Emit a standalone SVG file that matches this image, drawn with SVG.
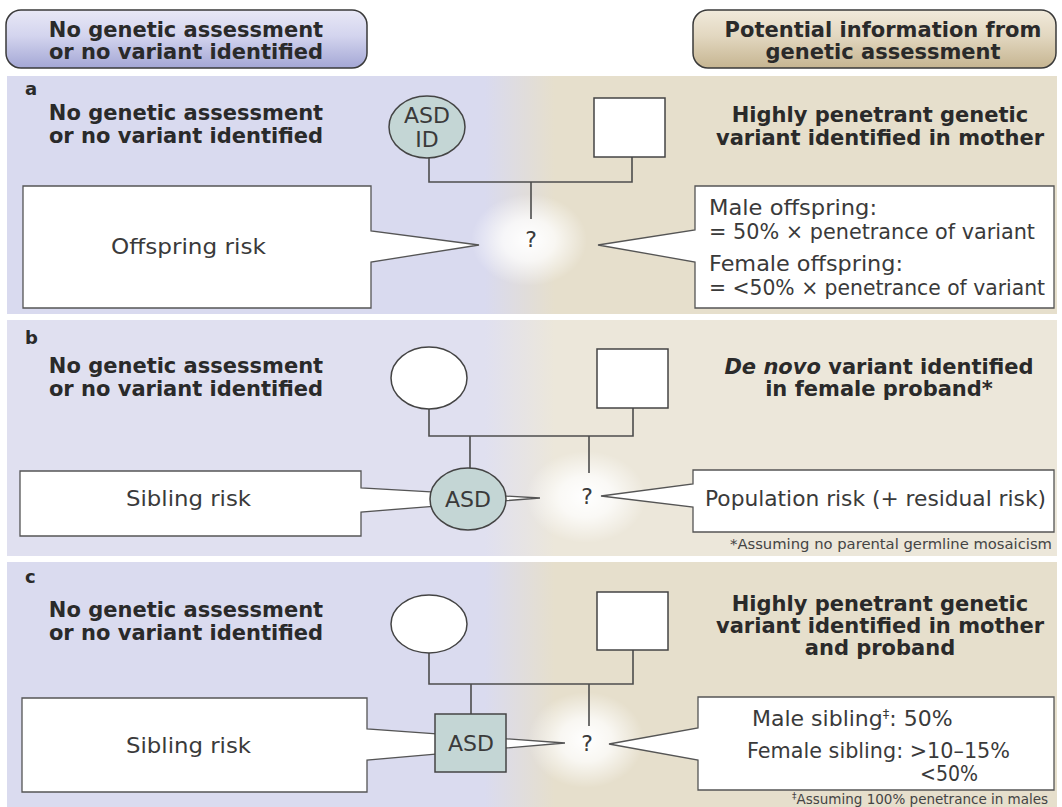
<svg xmlns="http://www.w3.org/2000/svg" width="1062" height="807" viewBox="0 0 1062 807">
<style>
.hd{font-family:"DejaVu Sans",sans-serif;font-weight:bold;font-size:21px;fill:#2a2a2a;text-anchor:middle}
.lb{font-family:"DejaVu Sans",sans-serif;font-weight:bold;font-size:18px;fill:#2a2a2a}
.tx{font-family:"DejaVu Sans",sans-serif;font-size:22px;fill:#3a3a3a}
.ts{font-family:"DejaVu Sans",sans-serif;font-size:20.5px;fill:#3a3a3a}
.nd{font-family:"DejaVu Sans",sans-serif;font-size:22px;fill:#3a3a3a;text-anchor:middle}
.fn{font-family:"DejaVu Sans",sans-serif;font-size:13.5px;fill:#444}
.ln{stroke:#4d4d4d;stroke-width:1.6;fill:none}
.co{fill:#fff;stroke:#555;stroke-width:1.3}
.pa{fill:#fff;stroke:#444;stroke-width:1.5}
.af{fill:#c4d6d5;stroke:#444;stroke-width:1.5}
.glow{fill:url(#glow)}
</style>
<defs>
<linearGradient id="gA" gradientUnits="userSpaceOnUse" x1="485" y1="0" x2="555" y2="0"><stop offset="0" stop-color="#d9daef"/><stop offset="1" stop-color="#e6dfcc"/></linearGradient>
<linearGradient id="gB" gradientUnits="userSpaceOnUse" x1="485" y1="0" x2="555" y2="0"><stop offset="0" stop-color="#e0e0f0"/><stop offset="1" stop-color="#ece7da"/></linearGradient>
<linearGradient id="gC" gradientUnits="userSpaceOnUse" x1="485" y1="0" x2="555" y2="0"><stop offset="0" stop-color="#dadbef"/><stop offset="1" stop-color="#e6dfcc"/></linearGradient>
<linearGradient id="hL" x1="0" y1="0" x2="0" y2="1"><stop offset="0" stop-color="#e8e8f6"/><stop offset="0.45" stop-color="#d3d4ee"/><stop offset="1" stop-color="#a4a7d5"/></linearGradient>
<linearGradient id="hR" x1="0" y1="0" x2="0" y2="1"><stop offset="0" stop-color="#f1eadb"/><stop offset="0.45" stop-color="#e2d7c0"/><stop offset="1" stop-color="#c6b591"/></linearGradient>
<radialGradient id="glow"><stop offset="0" stop-color="#fff" stop-opacity="1"/><stop offset="0.45" stop-color="#fff" stop-opacity="0.75"/><stop offset="1" stop-color="#fff" stop-opacity="0"/></radialGradient>
</defs>

<g id="headers">
<g id="header-left">
<rect x="6" y="10" width="361" height="58" rx="15" fill="url(#hL)" stroke="#3a3a3a" stroke-width="1.5"/>
<text class="hd" x="186" y="37">No genetic assessment</text>
<text class="hd" x="186" y="59">or no variant identified</text>
</g>
<g id="header-right">
<rect x="693" y="10" width="363" height="58" rx="15" fill="url(#hR)" stroke="#3a3a3a" stroke-width="1.5"/>
<text class="hd" x="883" y="37">Potential information from</text>
<text class="hd" x="883" y="59">genetic assessment</text>
</g>
</g>

<g id="panels">
<rect x="7" y="76" width="1050" height="238" fill="url(#gA)"/>
<rect x="7" y="320" width="1050" height="236" fill="url(#gB)"/>
<rect x="7" y="562" width="1050" height="245" fill="url(#gC)"/>
<ellipse class="glow" cx="529" cy="240" rx="58" ry="46"/>
<ellipse class="glow" cx="586" cy="497" rx="60" ry="46"/>
<ellipse class="glow" cx="586" cy="740" rx="58" ry="48"/>
</g>

<g id="panel-labels">
<text class="lb" x="25" y="95">a</text>
<text class="hd" x="186" y="120">No genetic assessment</text>
<text class="hd" x="186" y="143">or no variant identified</text>
<text class="hd" x="880" y="122">Highly penetrant genetic</text>
<text class="hd" x="880" y="145">variant identified in mother</text>

<text class="lb" x="25" y="344">b</text>
<text class="hd" x="186" y="373">No genetic assessment</text>
<text class="hd" x="186" y="396">or no variant identified</text>
<text class="hd" x="879" y="374"><tspan font-style="italic">De novo</tspan> variant identified</text>
<text class="hd" x="879" y="396">in female proband*</text>

<text class="lb" x="25" y="583">c</text>
<text class="hd" x="186" y="617">No genetic assessment</text>
<text class="hd" x="186" y="640">or no variant identified</text>
<text class="hd" x="880" y="611">Highly penetrant genetic</text>
<text class="hd" x="880" y="633">variant identified in mother</text>
<text class="hd" x="880" y="655">and proband</text>
</g>

<g id="connectors">
<path class="ln" d="M429,158 V182 H632 V157 M531,182 V219"/>
<path class="ln" d="M429,409 V436 H633 V408 M470,436 V468 M589,436 V473"/>
<path class="ln" d="M429,653 V684 H633 V650 M471,684 V714 M589,684 V726"/>
</g>

<g id="callouts">
<g id="callout-a-left">
<path class="co" d="M23,186 H371 V231 L479,245 L371,262 V308 H23 Z"/>
<text class="tx" x="111" y="254" textLength="155" lengthAdjust="spacingAndGlyphs">Offspring risk</text>
</g>
<g id="callout-a-right">
<path class="co" d="M695,186 H1054 V308 H695 V262 L598,245 L695,230 Z"/>
<text class="ts" x="709" y="215" textLength="168" lengthAdjust="spacingAndGlyphs">Male offspring:</text>
<text class="ts" x="709" y="239" textLength="326" lengthAdjust="spacingAndGlyphs">= 50% × penetrance of variant</text>
<text class="ts" x="709" y="271" textLength="194" lengthAdjust="spacingAndGlyphs">Female offspring:</text>
<text class="ts" x="709" y="295" textLength="336" lengthAdjust="spacingAndGlyphs">= &lt;50% × penetrance of variant</text>
</g>
<g id="callout-b-left">
<path class="co" d="M20,471 H361 V488 L540,498 L361,512 V536 H20 Z"/>
<text class="tx" x="126" y="506" textLength="125" lengthAdjust="spacingAndGlyphs">Sibling risk</text>
</g>
<g id="callout-b-right">
<path class="co" d="M693,470 H1054 V532 H693 V507 L601,496 L693,484 Z"/>
<text class="tx" x="705" y="506" textLength="341" lengthAdjust="spacingAndGlyphs">Population risk (+ residual risk)</text>
</g>
<text class="fn" x="730" y="549" textLength="322" lengthAdjust="spacingAndGlyphs">*Assuming no parental germline mosaicism</text>
<g id="callout-c-left">
<path class="co" d="M22,698 H367 V729 L565,743 L367,760 V792 H22 Z"/>
<text class="tx" x="126" y="753" textLength="125" lengthAdjust="spacingAndGlyphs">Sibling risk</text>
</g>
<g id="callout-c-right">
<path class="co" d="M698,697 H1054 V790 H698 V760 L609,744 L698,728 Z"/>
<text class="tx" x="752" y="726">Male sibling<tspan font-size="13" dy="-8">‡</tspan><tspan dy="8">: 50%</tspan></text>
<text class="tx" x="747" y="758" textLength="263" lengthAdjust="spacingAndGlyphs">Female sibling: &gt;10–15%</text>
<text class="tx" x="920" y="781" textLength="58" lengthAdjust="spacingAndGlyphs">&lt;50%</text>
</g>
<text class="fn" x="792" y="804"><tspan font-size="9" dy="-5">‡</tspan><tspan dy="5">Assuming 100% penetrance in males</tspan></text>
</g>

<g id="nodes">
<g id="a-mother">
<ellipse class="af" cx="427" cy="127" rx="38" ry="31"/>
<text class="nd" x="427" y="123">ASD</text>
<text class="nd" x="427" y="147">ID</text>
</g>
<g id="a-father"><rect class="pa" x="594" y="98" width="71" height="59"/></g>
<g id="a-offspring"><text class="nd" x="531" y="247">?</text></g>

<g id="b-mother"><ellipse class="pa" cx="429" cy="378" rx="38" ry="31"/></g>
<g id="b-father"><rect class="pa" x="597" y="349" width="71" height="59"/></g>
<g id="b-proband">
<ellipse class="af" cx="468" cy="499" rx="38" ry="31"/>
<text class="nd" x="468" y="507">ASD</text>
</g>
<g id="b-sibling"><text class="nd" x="587" y="504">?</text></g>

<g id="c-mother"><ellipse class="pa" cx="429" cy="624" rx="38" ry="29"/></g>
<g id="c-father"><rect class="pa" x="597" y="592" width="71" height="58"/></g>
<g id="c-proband">
<rect class="af" x="435" y="714" width="71" height="58"/>
<text class="nd" x="471" y="751">ASD</text>
</g>
<g id="c-sibling"><text class="nd" x="587" y="751">?</text></g>
</g>
</svg>
